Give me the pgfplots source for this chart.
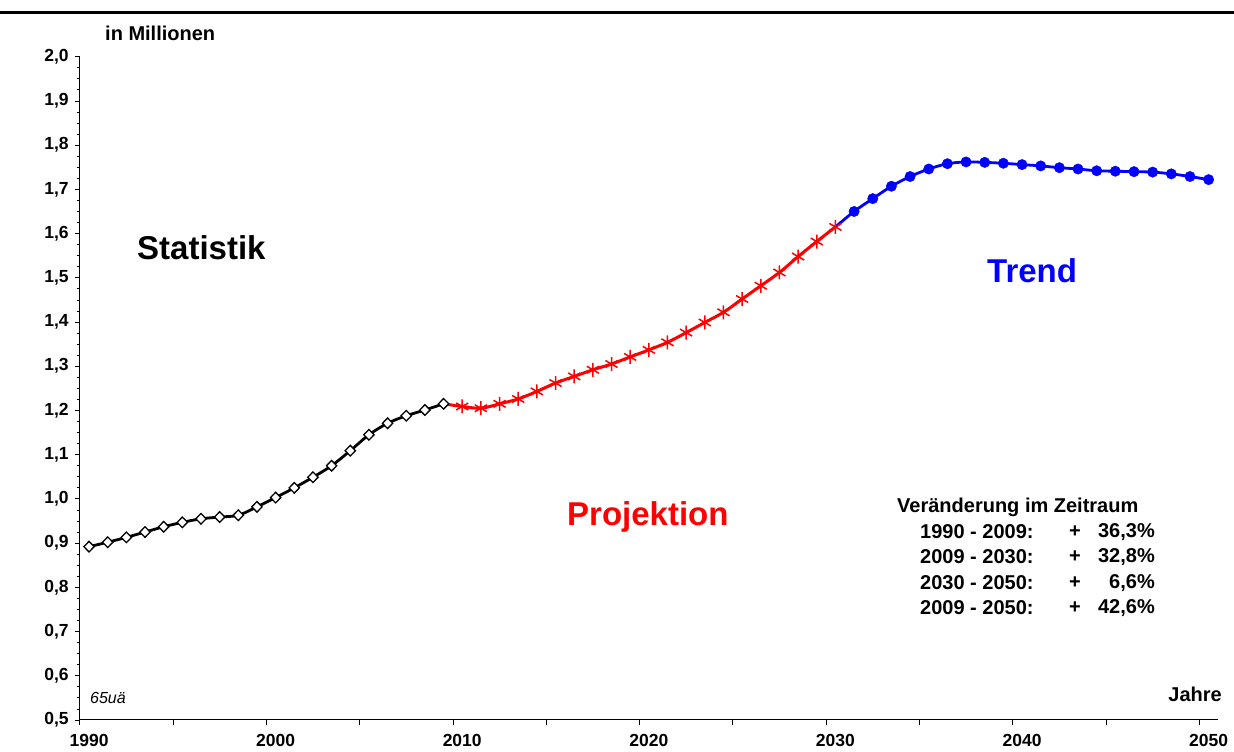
\documentclass[border=0pt]{standalone}
\usepackage{pgfplots}
\pgfplotsset{compat=1.18}
\usepackage{pgfplotstable}
\usepackage{fontspec}
\setmainfont{Liberation Sans}
\pgfplotstableread{
year val
1990 0.892
1991 0.902
1992 0.913
1993 0.925
1994 0.937
1995 0.947
1996 0.955
1997 0.959
1998 0.963
1999 0.982
2000 1.003
2001 1.025
2002 1.049
2003 1.075
2004 1.109
2005 1.145
2006 1.171
2007 1.188
2008 1.201
2009 1.215
}\statistik
\pgfplotstableread{
year val
2009 1.215
2010 1.209
2011 1.205
2012 1.215
2013 1.226
2014 1.243
2015 1.262
2016 1.277
2017 1.292
2018 1.305
2019 1.321
2020 1.337
2021 1.354
2022 1.376
2023 1.399
2024 1.422
2025 1.452
2026 1.482
2027 1.512
2028 1.548
2029 1.582
2030 1.615
}\projektion
\pgfplotstableread{
year val
2030 1.615
2031 1.650
2032 1.679
2033 1.707
2034 1.729
2035 1.746
2036 1.758
2037 1.762
2038 1.761
2039 1.759
2040 1.756
2041 1.753
2042 1.749
2043 1.746
2044 1.742
2045 1.741
2046 1.740
2047 1.739
2048 1.735
2049 1.729
2050 1.722
}\trend
\begin{document}
\begin{tikzpicture}
\useasboundingbox (-79.7pt,-32pt) rectangle (1154.3pt,720pt);
\draw[line width=3.3pt] (-79.7pt,707.7pt) -- (1154.3pt,707.7pt);
\begin{axis}[
  at={(0pt,0pt)}, anchor=south west,
  width=1138.3pt, height=663.3pt, scale only axis,
  xmin=1989.5, xmax=2050.5, ymin=0.5, ymax=2.0,
  axis lines*=left,
  axis line style={line width=1pt},
  tick align=outside,
  major tick length=5pt, minor tick length=3pt,
  tick style={line width=0.8pt, black},
  xtick={1989.5,1994.5,...,2049.5},
  xticklabels={1990,,2000,,2010,,2020,,2030,,2040,,2050},
  x tick label style={xshift=9.33pt, yshift=-6pt, font=\fontsize{17.5}{20}\selectfont\bfseries},
  ytick={0.5,0.6,0.7,0.8,0.9,1.0,1.1,1.2,1.3,1.4,1.5,1.6,1.7,1.8,1.9,2.0},
  minor y tick num=3,
  y tick label style={xshift=-2.5pt, font=\fontsize{17.5}{20}\selectfont\bfseries,
    /pgf/number format/.cd, fixed, fixed zerofill, precision=1, use comma, assume math mode=true},
  clip=false,
]
\addplot[blue, line width=2.8pt, smooth, mark=none] table[x=year,y=val]{\trend};
\addplot[blue, only marks, mark=*, mark size=5.2pt, skip coords between index={0}{1}] table[x=year,y=val]{\trend};
\addplot[red, line width=3pt, smooth, mark=none] table[x=year,y=val]{\projektion};
\addplot[red, only marks, mark=asterisk, mark size=7pt, mark options={line width=1.5pt}, skip coords between index={0}{1}] table[x=year,y=val]{\projektion};
\addplot[black, line width=2.8pt, smooth, mark=none] table[x=year,y=val]{\statistik};
\addplot[black, only marks, mark=diamond*, mark size=5.3pt, mark options={fill=white, draw=black, line width=1.3pt, xscale=1.3}] table[x=year,y=val]{\statistik};
\end{axis}
\node[anchor=west, font=\fontsize{20}{24}\selectfont\bfseries, inner sep=0pt] at (25.3pt,687pt) {in Millionen};
\node[anchor=west, font=\fontsize{33}{38}\selectfont\bfseries, inner sep=0pt] at (57.3pt,472pt) {Statistik};
\node[anchor=west, font=\fontsize{33}{38}\selectfont\bfseries, text=red, inner sep=0pt] at (487.3pt,203pt) {Projektion};
\node[anchor=west, font=\fontsize{33}{38}\selectfont\bfseries, text=blue, inner sep=0pt] at (907.3pt,449pt) {Trend};
\node[anchor=west, font=\fontsize{16}{19}\selectfont\itshape, inner sep=0pt] at (10.3pt,22pt) {65uä};
\node[anchor=east, font=\fontsize{20}{24}\selectfont\bfseries, inner sep=0pt] at (1142.3pt,26pt) {Jahre};
\begin{scope}[every node/.style={font=\fontsize{20}{24}\selectfont\bfseries, inner sep=0pt}]
\node[anchor=west] at (817.3pt,213pt) {Veränderung im Zeitraum};
\node[anchor=west] at (840.3pt,188pt) {1990 - 2009:};
\node[anchor=west] at (840.3pt,163pt) {2009 - 2030:};
\node[anchor=west] at (840.3pt,137pt) {2030 - 2050:};
\node[anchor=west] at (840.3pt,112pt) {2009 - 2050:};
\node at (995.3pt,188pt) {+};
\node at (995.3pt,163pt) {+};
\node at (995.3pt,137pt) {+};
\node at (995.3pt,112pt) {+};
\node[anchor=east] at (1075.3pt,188pt) {36,3\%};
\node[anchor=east] at (1075.3pt,163pt) {32,8\%};
\node[anchor=east] at (1075.3pt,137pt) {6,6\%};
\node[anchor=east] at (1075.3pt,112pt) {42,6\%};
\end{scope}
\end{tikzpicture}
\end{document}
